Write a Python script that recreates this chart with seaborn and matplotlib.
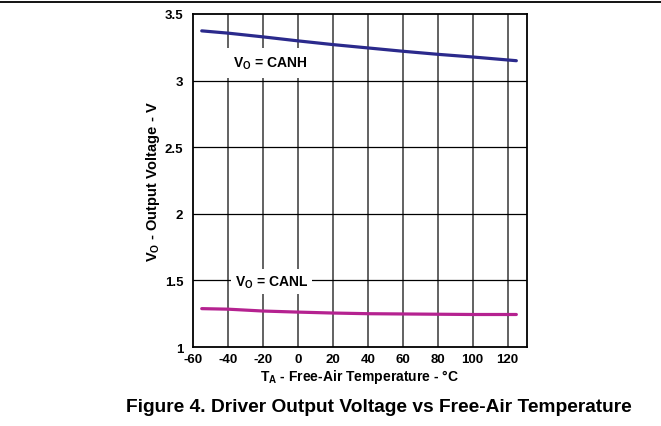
import matplotlib
matplotlib.use("Agg")
import matplotlib.pyplot as plt
import seaborn as sns
import pandas as pd
from matplotlib.lines import Line2D

temps = [-55, -40, -20, 0, 20, 40, 60, 80, 100, 125]
canh = [3.373, 3.356, 3.328, 3.298, 3.270, 3.245, 3.220, 3.197, 3.177, 3.149]
canl = [1.288, 1.284, 1.270, 1.262, 1.255, 1.250, 1.248, 1.246, 1.244, 1.244]
xticks = [-60, -40, -20, 0, 20, 40, 60, 80, 100, 120]
yticks = [1, 1.5, 2, 2.5, 3, 3.5]

sns.set_style("white")
plt.rcParams['font.family'] = ['Liberation Sans', 'DejaVu Sans']
plt.rcParams['mathtext.fontset'] = 'custom'
plt.rcParams['mathtext.rm'] = 'Liberation Sans'
plt.rcParams['mathtext.bf'] = 'Liberation Sans:bold'
plt.rcParams['mathtext.it'] = 'Liberation Sans:italic'
plt.rcParams['text.color'] = 'black'
plt.rcParams['axes.labelcolor'] = 'black'
plt.rcParams['xtick.color'] = 'black'
plt.rcParams['ytick.color'] = 'black'

df = pd.DataFrame({"T": temps * 2,
                   "V": canh + canl,
                   "s": ["CANH"] * len(temps) + ["CANL"] * len(temps)})

fig = plt.figure(figsize=(6.61, 4.27), dpi=100)
ax = fig.add_axes([0.292, 0.185, 0.505, 0.780])

# grid
for x in xticks[1:]:
    ax.axvline(x, color="#555555", lw=1.3, zorder=1)
for y in yticks[1:-1]:
    ax.axhline(y, color="black", lw=0.9, zorder=1)

sns.lineplot(data=df, x="T", y="V", hue="s",
             palette={"CANH": "#2b2a8c", "CANL": "#b52290"},
             lw=2.3, legend=False, ax=ax, zorder=3)

ax.set_xlim(-60, 131)
ax.set_ylim(1, 3.5)
ax.set_xticks(xticks)
ax.set_yticks(yticks)
ax.set_xticklabels([str(t) for t in xticks], fontsize=9.5, fontweight="bold")
ax.set_yticklabels(["1", "1.5", "2", "2.5", "3", "3.5"], fontsize=9.5, fontweight="bold")
ax.tick_params(axis="y", length=0, pad=7)
ax.tick_params(axis="x", length=0, pad=4)
for sp in ax.spines.values():
    sp.set_color("black")
    sp.set_linewidth(1.3)

ax.set_xlabel(r"$\mathbf{T_A}$ - Free-Air Temperature - °C", fontsize=10,
              fontweight="bold", labelpad=2)
ax.set_ylabel(r"$\mathbf{V_O}$ - Output Voltage - V", fontsize=10.5,
              fontweight="bold", labelpad=2)

ax.text(-16, 3.13, r"$\mathbf{V_O}$ = CANH", fontsize=10, fontweight="bold",
        ha="center", va="center", zorder=4,
        bbox=dict(facecolor="white", edgecolor="none", pad=5))
ax.text(-15, 1.49, r"$\mathbf{V_O}$ = CANL", fontsize=10, fontweight="bold",
        ha="center", va="center", zorder=4,
        bbox=dict(facecolor="white", edgecolor="none", pad=3))

fig.text(0.573, 0.045, "Figure 4. Driver Output Voltage vs Free-Air Temperature",
         fontsize=13.8, fontweight="bold", ha="center", va="center")

fig.add_artist(Line2D([0, 1], [0.993, 0.993], color="black", lw=1.3,
                      transform=fig.transFigure))

fig.savefig("out.png", dpi=100)
